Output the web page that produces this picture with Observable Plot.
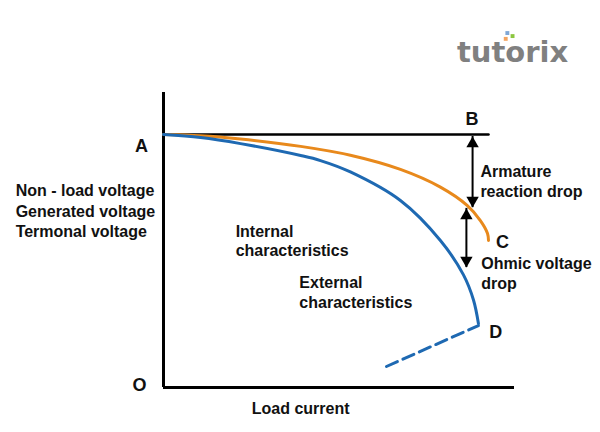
<!DOCTYPE html>
<html>
<head>
<meta charset="utf-8">
<script src="https://cdn.jsdelivr.net/npm/d3@7"></script>
<script src="https://cdn.jsdelivr.net/npm/@observablehq/plot@0.6"></script>
<style>
  html, body { margin: 0; padding: 0; background: #fff; }
</style>
</head>
<body>
<div id="chart"></div>
<script>
// Load current (x) vs voltage (y); E0 (no-load voltage) = 100, full load = 100
const orangeX = [0, 11.4, 23.7, 42.2, 57.5, 72.9, 85.2, 93.5, 97.5, 99.7, 100];
const orangeY = [100, 99.5, 98.2, 95.3, 91.8, 86.2, 79.2, 71.9, 66, 60.9, 58.1];
const blueX = [0, 11.4, 23.7, 42.2, 48.3, 57.5, 72.9, 85.2, 92.3, 95.4, 96.9];
const blueY = [100, 98.8, 96.4, 91.7, 89.7, 85.2, 73.9, 58.1, 44.5, 34.5, 25.3];
const dashX = [68.6, 96.9];
const dashY = [8.3, 24.5];
const noLoadX = [0, 100];
const noLoadY = [100, 100];
const axisXmax = 108;
const axisYmax = 116.6;
// double arrows: x, from y, to y
const arrowX = [95.1, 93.2];
const arrowY1 = [99.2, 70.8];
const arrowY2 = [71.1, 47.4];
// point labels
const pointText = ["A", "B", "C", "D", "O"];
const pointX = [-6.8, 94.9, 104.3, 102.2, -7.4];
const pointY = [92.9, 103.6, 55.3, 19.4, -1.2];
// annotations
const noteText = ["Non - load voltage\nGenerated voltage\nTermonal voltage", "Internal\ncharacteristics", "External\ncharacteristics", "Armature\nreaction drop", "Ohmic voltage\ndrop"];
const noteX = [-45.5, 22.2, 41.8, 97.5, 97.8];
const noteY = [59.3, 51.8, 31.6, 75.1, 39.1];
const noteLH = [1.3, 1.2, 1.25, 1.25, 1.25];
const xLabel = "Load current";
const xLabelPos = [42.2, -10.3];
const logoText = "tutorix";
const logoPos = [107.4, 128.5];
const logoDotX = [105.3, 105.8, 107.4];
const logoDotY = [137.8, 140.1, 138.9];
const logoDotC = ["#F4A460", "#7FA7D6", "#8CC63F"];

const ORANGE = "#E8891C";
const BLUE = "#1E69B2";
const FONT = "'Liberation Sans', Arial, sans-serif";

const orange = orangeX.map((x, i) => ({x, y: orangeY[i]}));
const blue = blueX.map((x, i) => ({x, y: blueY[i]}));
const dash = dashX.map((x, i) => ({x, y: dashY[i]}));
const noLoad = noLoadX.map((x, i) => ({x, y: noLoadY[i]}));
const arrows = arrowX.map((x, i) => ({x, y1: arrowY1[i], y2: arrowY2[i]}));
const points = pointText.map((t, i) => ({t, x: pointX[i], y: pointY[i]}));
const logoDots = logoDotX.map((x, i) => ({x, y: logoDotY[i], c: logoDotC[i]}));

const noteMarks = noteText.map((t, i) => Plot.text([{t, x: noteX[i], y: noteY[i]}], {
  x: "x", y: "y", text: "t", textAnchor: "start", lineAnchor: "bottom",
  lineHeight: noteLH[i], fontSize: 16, fontWeight: "bold", fontFamily: FONT, fill: "#111"
}));

const chart = Plot.plot({
  width: 600,
  height: 432,
  margin: 0,
  style: {background: "#fff", overflow: "visible"},
  x: {domain: [0, 100], range: [163, 488], axis: null},
  y: {domain: [0, 100], range: [387, 134], axis: null},
  marks: [
    // axes
    Plot.ruleX([0], {y1: 0, y2: axisYmax, stroke: "#000", strokeWidth: 3}),
    Plot.ruleY([0], {x1: 0, x2: axisXmax, stroke: "#000", strokeWidth: 3}),
    // no-load line A-B
    Plot.line(noLoad, {x: "x", y: "y", stroke: "#000", strokeWidth: 2.5}),
    // internal characteristic
    Plot.line(orange, {x: "x", y: "y", stroke: ORANGE, strokeWidth: 3, curve: "catmull-rom"}),
    // external characteristic
    Plot.line(blue, {x: "x", y: "y", stroke: BLUE, strokeWidth: 3, curve: "catmull-rom"}),
    Plot.line(dash, {x: "x", y: "y", stroke: BLUE, strokeWidth: 3, strokeDasharray: "12,6"}),
    // double arrows
    Plot.ruleX(arrows, {x: "x", y1: "y1", y2: "y2", stroke: "#000", strokeWidth: 2}),
    Plot.dot(arrows, {x: "x", y: "y1", symbol: "triangle", r: 4.6, fill: "#000", stroke: "none", dy: 7.2}),
    Plot.dot(arrows, {x: "x", y: "y2", symbol: "triangle", r: 4.6, fill: "#000", stroke: "none", rotate: 180, dy: -7.2}),
    // point labels
    Plot.text(points, {x: "x", y: "y", text: "t", textAnchor: "middle", lineAnchor: "bottom",
      fontSize: 18, fontWeight: "bold", fontFamily: FONT, fill: "#111"}),
    ...noteMarks,
    Plot.text([{t: xLabel, x: xLabelPos[0], y: xLabelPos[1]}], {x: "x", y: "y", text: "t",
      textAnchor: "middle", lineAnchor: "bottom", fontSize: 16, fontWeight: "bold", fontFamily: FONT, fill: "#111"}),
    // logo
    Plot.dot(logoDots, {x: "x", y: "y", fill: "c", symbol: "square", r: 2.2, stroke: "none"}),
    Plot.text([{t: logoText, x: logoPos[0], y: logoPos[1]}], {x: "x", y: "y", text: "t",
      textAnchor: "middle", lineAnchor: "bottom", fontSize: 29, fontWeight: "bold",
      fontFamily: "'DejaVu Sans', sans-serif", fill: "#808080"})
  ]
});
document.getElementById("chart").appendChild(chart);
</script>
</body>
</html>
